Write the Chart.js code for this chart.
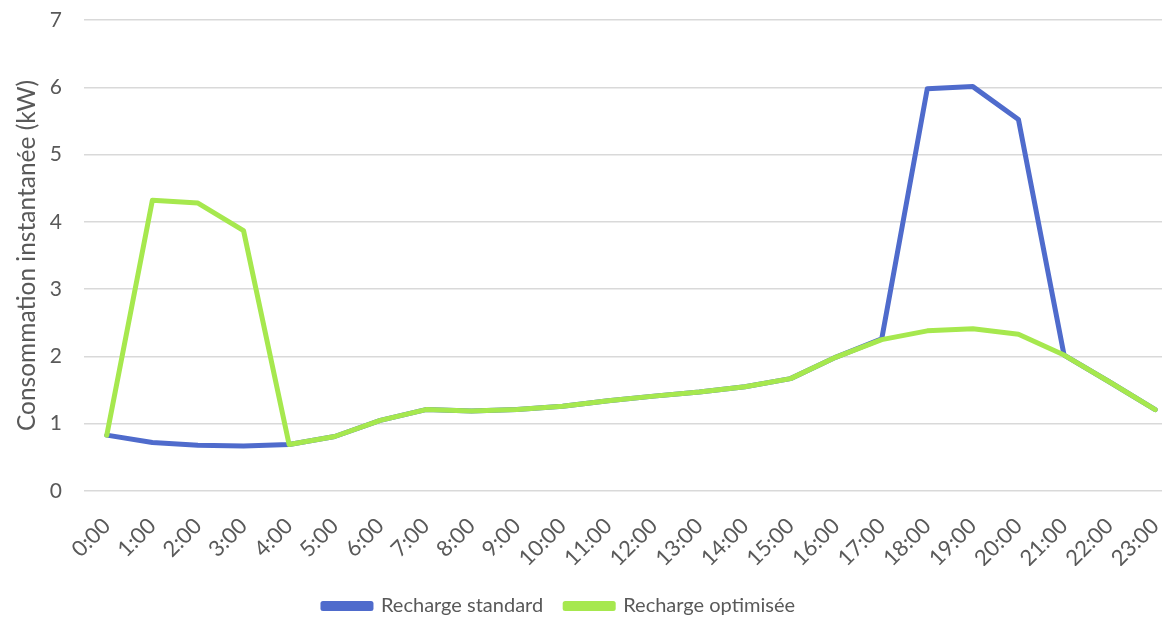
<!DOCTYPE html>
<html>
<head>
<meta charset="utf-8">
<script src="https://cdn.jsdelivr.net/npm/chart.js@4/dist/chart.umd.min.js"></script>
<style>
  html, body { margin: 0; padding: 0; background: #fff; overflow: hidden; }
  #wrap { position: relative; width: 1190px; height: 618px; }
</style>
</head>
<body>
<div id="wrap"><canvas id="consoChart"></canvas></div>
<script>
// heures de la journée
const hours = ['0:00','1:00','2:00','3:00','4:00','5:00','6:00','7:00','8:00','9:00','10:00','11:00',
  '12:00','13:00','14:00','15:00','16:00','17:00','18:00','19:00','20:00','21:00','22:00','23:00'];

// consommation instantanée (kW)
const standard = [0.83, 0.72, 0.68, 0.67, 0.69, 0.81, 1.05, 1.21, 1.19, 1.21, 1.26, 1.34,
  1.41, 1.47, 1.55, 1.67, 1.99, 2.26, 5.98, 6.01, 5.52, 2.02, 1.62, 1.21];
const optimisee = [0.83, 4.32, 4.28, 3.87, 0.69, 0.81, 1.05, 1.21, 1.19, 1.21, 1.26, 1.34,
  1.41, 1.47, 1.55, 1.67, 1.99, 2.25, 2.38, 2.41, 2.33, 2.02, 1.62, 1.21];

const yTicks = [0, 1, 2, 3, 4, 5, 6, 7];

const FONT = 'Lato';
const TXT = '#595959';

const ctx = document.getElementById('consoChart');

// décale la légende (le canvas est plus large que la fenêtre)
const moveLegend = {
  id: 'moveLegend',
  afterLayout: function(chart){
    const lg = chart.legend;
    lg.left -= 30; lg.right -= 30;
    lg.top += 8; lg.bottom += 8;
  }
};

const data = {
  labels: hours,
  datasets: [
    {
      label: 'Recharge standard',
      data: standard,
      borderColor: '#4f6bcc',
      backgroundColor: '#4f6bcc',
      borderWidth: 5,
      pointRadius: 0,
      tension: 0,
      order: 2,
      borderCapStyle: 'round',
      borderJoinStyle: 'round'
    },
    {
      label: 'Recharge optimisée',
      data: optimisee,
      borderColor: '#a6e84e',
      backgroundColor: '#a6e84e',
      borderWidth: 5,
      pointRadius: 0,
      tension: 0,
      order: 1,
      borderCapStyle: 'round',
      borderJoinStyle: 'round'
    }
  ]
};

const option = {
  responsive: true,
  maintainAspectRatio: false,
  animation: false,
  layout: { padding: { top: 20, right: 12, left: 0, bottom: 0 } },
  plugins: {
    legend: {
      position: 'bottom',
      labels: {
        boxWidth: 48,
        boxHeight: 5,
        padding: 22,
        color: TXT,
        font: { family: FONT, size: 20 },
        sort: function(a, b){ return a.datasetIndex - b.datasetIndex; }
      }
    },
    tooltip: { enabled: false }
  },
  scales: {
    x: {
      offset: true,
      grid: { display: false },
      border: { display: false },
      ticks: {
        color: TXT,
        font: { family: FONT, size: 22 },
        minRotation: 45,
        maxRotation: 45,
        autoSkip: false,
        padding: 14
      },
      afterFit: function(scale){
        scale.height = 75;
        scale.paddingLeft = 0; scale.paddingRight = 0;
      }
    },
    y: {
      min: 0,
      max: 7,
      afterBuildTicks: function(scale){ scale.ticks = yTicks.map(v => ({ value: v })); },
      grid: { color: '#d9d9d9', lineWidth: 1.5, drawTicks: false },
      border: { display: false },
      ticks: {
        color: TXT,
        font: { family: FONT, size: 21 },
        padding: 22
      },
      title: {
        display: true,
        text: 'Consommation instantanée (kW)',
        color: TXT,
        font: { family: FONT, size: 24.5 },
        padding: { top: 12, bottom: 0 }
      },
      afterFit: function(scale){
        scale.width = 84;
        scale.paddingTop = 0; scale.paddingBottom = 0;
      }
    }
  }
};

new Chart(ctx, { type: 'line', data: data, options: option, plugins: [moveLegend] });
</script>
</body>
</html>
